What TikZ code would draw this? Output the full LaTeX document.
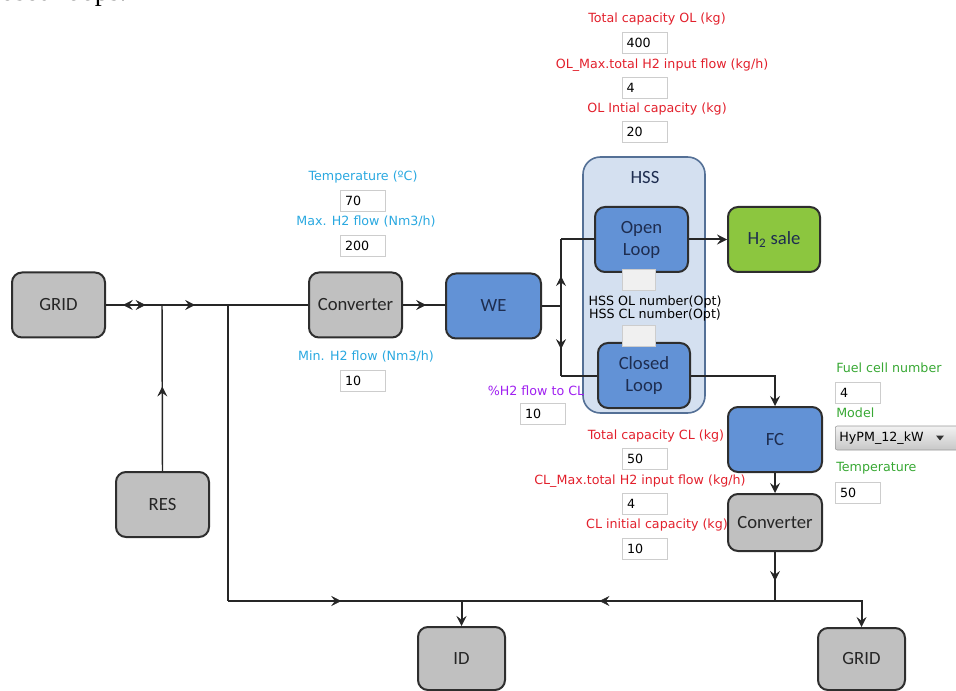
\documentclass[tikz,border=0pt]{standalone}
\usepackage{fontspec}
\setmainfont{DejaVu Sans}
\newfontfamily\uifont{DejaVu Sans}
\newfontfamily\boxfont{Carlito}
\newfontfamily\pagefont{Liberation Serif}
\usetikzlibrary{arrows.meta,decorations.markings}
\definecolor{lblred}{RGB}{226,32,44}
\definecolor{lblblue}{RGB}{41,168,224}
\definecolor{lblgreen}{RGB}{56,168,52}
\definecolor{lblpurple}{RGB}{160,32,240}
\definecolor{boxgray}{RGB}{192,192,192}
\definecolor{boxblue}{RGB}{98,146,214}
\definecolor{hssfill}{RGB}{212,224,240}
\definecolor{hssdraw}{RGB}{84,112,150}
\definecolor{salegreen}{RGB}{140,198,63}
\definecolor{inbord}{RGB}{205,205,205}
\definecolor{navytext}{RGB}{30,45,80}
\tikzset{
  >={Stealth[length=7.5pt,width=7.5pt,inset=2.8pt,line width=0.4pt]},
  lbl/.style={font=\uifont\fontsize{9.5}{11}\selectfont, inner sep=0pt},
  redlbl/.style={lbl, text=lblred},
  bluelbl/.style={lbl, text=lblblue},
  greenlbl/.style={lbl, text=lblgreen, anchor=west},
  purplelbl/.style={lbl, text=lblpurple},
  inbox/.style={draw=inbord, fill=white, line width=0.6pt, minimum width=33.75pt,
    minimum height=15.75pt, inner xsep=3pt, inner ysep=0pt, text width=27pt,
    align=left, font=\uifont\fontsize{9.5}{11}\selectfont},
  blankbox/.style={draw=inbord, fill=black!6, line width=0.6pt, minimum width=24.75pt,
    minimum height=15.75pt, inner sep=0pt},
  blk/.style={draw=black!82, line width=1.5pt, rounded corners=7.5pt, align=center,
    inner sep=0pt, font=\boxfont\fontsize{14}{16.5}\selectfont},
  graybox/.style={blk, fill=boxgray, text=black!85},
  bluebox/.style={blk, fill=boxblue, text=navytext},
  conn/.style={line width=1.5pt, draw=black!85},
  thinconn/.style={line width=1.1pt, draw=black!85},
  midarr/.style={postaction={decorate, decoration={markings,
    mark=at position #1 with {\arrow{>}}}}},
  midarrrev/.style={postaction={decorate, decoration={markings,
    mark=at position #1 with {\arrowreversed{>}}}}},
}
\begin{document}
\begin{tikzpicture}[x=0.75pt,y=-0.75pt]
\useasboundingbox (0,0) rectangle (956,691);

% cut caption line at the top (only its lower edge shows)
\node[font=\pagefont\fontsize{21}{21}\selectfont, anchor=base east, inner sep=0pt] (cap) at (127,0.5) {closed loops.};

% HSS container
\node[draw=hssdraw, fill=hssfill, line width=1.2pt, rounded corners=13pt,
  minimum width=91.5pt, minimum height=192pt, inner sep=0pt] (hss) at (644,285) {};
\node[font=\boxfont\fontsize{14}{16.5}\selectfont, text=navytext, inner sep=0pt] (hsslbl) at (645,178) {HSS};

% junction coordinates
\coordinate (j1) at (162,305);
\coordinate (j2) at (228,305);
\coordinate (b1) at (228,601);
\coordinate (jw) at (561,306);

% blocks
\node[graybox, minimum width=69.75pt, minimum height=48.75pt] (gridL) at (58.5,305) {GRID};
\node[graybox, minimum width=69.75pt, minimum height=48.75pt] (conv) at (355.5,305) {Converter};
\node[bluebox, minimum width=71.25pt, minimum height=48.75pt] (we) at (493.5,306) {WE};
\node[graybox, minimum width=69.75pt, minimum height=48.75pt] (res) at (162.5,504.5) {RES};
\node[graybox, minimum width=65.25pt, minimum height=47.25pt] (id) at (461.5,658.5) {ID};
\node[graybox, minimum width=65.25pt, minimum height=46.5pt] (gridR) at (861.5,659) {GRID};
\node[bluebox, minimum width=69.75pt, minimum height=48.75pt] (open) at (641.5,239.5) {Open\\Loop};
\node[bluebox, minimum width=69pt, minimum height=48.75pt] (closed) at (644,375.5) {Closed\\Loop};
\node[blk, fill=salegreen, text=navytext, minimum width=69pt, minimum height=48.75pt] (sale) at (774,239.5) {H\textsubscript{2} sale};
\node[bluebox, minimum width=70.5pt, minimum height=48.75pt] (fc) at (775,439.5) {FC};
\node[graybox, minimum width=70.5pt, minimum height=42.75pt] (conv2) at (775,522.5) {Converter};

\coordinate (jtop) at (jw |- open.west);
\coordinate (jbot) at (jw |- closed.west);
\coordinate (bid) at (b1 -| id.north);
\coordinate (bc) at (b1 -| conv2.south);
\coordinate (bg) at (b1 -| gridR.north);

% connectors
\draw[conn, midarrrev=0.083, midarr=0.196, midarr=0.441] (gridL.east) -- (conv.west);
\draw[thinconn, midarr=0.509] (res.north) -- (j1);
\draw[thinconn] (j2) -- (b1);
\draw[conn, midarr=0.485] (b1) -- (bid);
\draw[conn, ->] (bid) -- (id.north);
\draw[conn, midarr=0.56] (bc) -- (bid);
\draw[conn, ->] (bc) -- (bg) -- (gridR.north);
\draw[conn, midarr=0.59] (conv2.south) -- (bc);
\draw[conn, midarr=0.55] (conv.east) -- (conv.east -| we.west);
\draw[conn] (we.east) -- (jw);
\draw[conn, midarr=0.45] (jw) -- (jtop);
\draw[conn] (jtop) -- (open.west);
\draw[conn, midarr=0.62] (jw) -- (jbot);
\draw[conn] (jbot) -- (closed.west);
\draw[conn, ->] (open.east) -- (sale.west);
\draw[conn, ->] (closed.east) -- (closed.east -| fc.north) -- (fc.north);
\draw[conn, ->] (fc.south) -- (conv2.north);

% OL parameters
\node[redlbl] (olcap) at (657,19) {Total capacity OL (kg)};
\node[inbox] (olcapv) at (644.5,43) {400};
\node[redlbl] (olmax) at (662,65) {OL\_Max.total H2 input flow (kg/h)};
\node[inbox] (olmaxv) at (644.5,88) {4};
\node[redlbl] (olini) at (657,109) {OL Intial capacity (kg)};
\node[inbox] (oliniv) at (644.5,132) {20};

% WE parameters
\node[bluelbl] (wetemp) at (363,177) {Temperature (ºC)};
\node[inbox] (wetempv) at (363,201) {70};
\node[bluelbl] (wemax) at (366,222) {Max. H2 flow (Nm3/h)};
\node[inbox] (wemaxv) at (363,246) {200};
\node[bluelbl] (wemin) at (366,357) {Min. H2 flow (Nm3/h)};
\node[inbox] (weminv) at (363,380.5) {10};

% HSS numbers
\node[blankbox] (olnum) at (638.5,280) {};
\node[lbl, font=\uifont\fontsize{9.5}{11}\selectfont] (olnuml) at (655,302) {HSS OL number(Opt)};
\node[lbl, font=\uifont\fontsize{9.5}{11}\selectfont] (clnuml) at (655,315) {HSS CL number(Opt)};
\node[blankbox] (clnum) at (638.5,336) {};

% flow to CL
\node[purplelbl] (pct) at (536,391) {\%H2 flow to CL};
\node[inbox] (pctv) at (543,414) {10};

% CL parameters
\node[redlbl] (clcap) at (656,436) {Total capacity CL (kg)};
\node[inbox] (clcapv) at (645,459) {50};
\node[redlbl] (clmax) at (640,481) {CL\_Max.total H2 input flow (kg/h)};
\node[inbox] (clmaxv) at (645,504) {4};
\node[redlbl] (clini) at (657,525) {CL initial capacity (kg)};
\node[inbox] (cliniv) at (645,549) {10};

% FC parameters
\node[greenlbl] (fcnum) at (836,368) {Fuel cell number};
\node[inbox] (fcnumv) at (858,392.5) {4};
\node[greenlbl] (fcmod) at (836,413) {Model};
\node[draw=black!40, top color=black!5, bottom color=black!22, rounded corners=1.5pt,
  minimum width=92.25pt, minimum height=18pt, anchor=west, inner xsep=3pt, inner ysep=0pt,
  text width=86pt, align=left, font=\uifont\fontsize{9.5}{11}\selectfont] (model) at (835,438) {HyPM\_12\_kW};
\fill[black!80] (936,435.5) -- (944,435.5) -- (940,440.5) -- cycle;
\node[greenlbl] (fctemp) at (836,468) {Temperature};
\node[inbox] (fctempv) at (858,492.5) {50};
\end{tikzpicture}
\end{document}
